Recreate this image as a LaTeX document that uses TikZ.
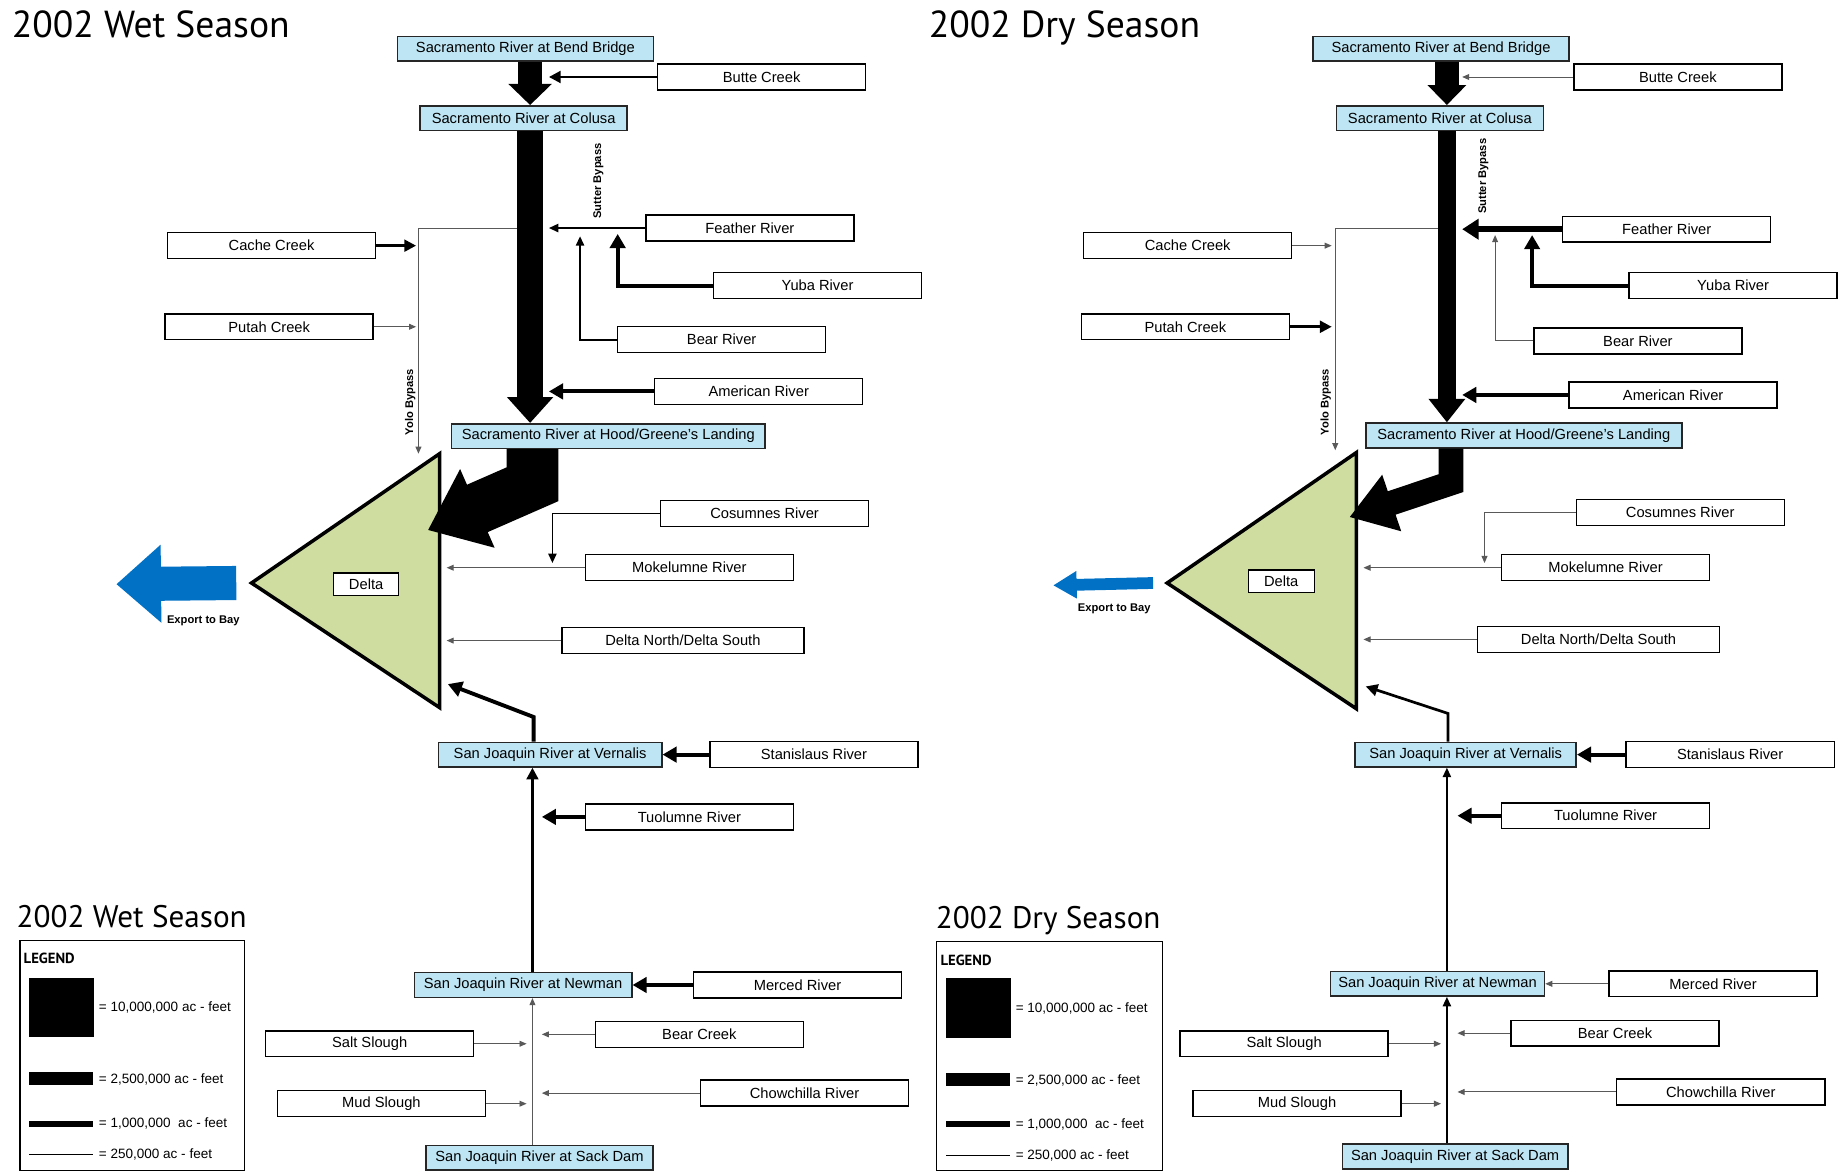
\documentclass[tikz,border=0pt]{standalone}
\usepackage{fontspec}
\setmainfont{Liberation Sans}
\newfontfamily\titlefont{PT Sans}
\usepackage{tikz}
\usetikzlibrary{arrows.meta, backgrounds, positioning}

\definecolor{gaugeblue}{RGB}{190,229,243}
\definecolor{deltagreen}{RGB}{207,222,160}
\definecolor{exportblue}{RGB}{0,113,197}

\tikzset{
    gauge/.style={draw=black!85, line width=1.3pt, fill=gaugeblue, minimum height=21pt, inner sep=0pt, font=\fontsize{12.5}{14}\selectfont},
    trib/.style={draw=black, line width=1.2pt, fill=white, minimum width=177pt, minimum height=22pt, inner sep=0pt, font=\fontsize{12.5}{14}\selectfont},
    hair/.style={line width=0.8pt, draw=black!65, -{Triangle[width=5pt,length=6pt]}},
    thinflow/.style={line width=1.4pt, -{Triangle[width=7pt,length=8pt]}},
    midflow/.style={line width=2.3pt, -{Triangle[width=10pt,length=10pt]}},
    thickflow/.style={line width=3.3pt, -{Triangle[width=13pt,length=12pt]}},
    heavyflow/.style={line width=5.5pt, -{Triangle[width=17pt,length=14pt]}},
    deltashape/.style={draw=black, line width=3pt, fill=deltagreen, line join=miter},
    bypass/.style={font=\bfseries\fontsize{9.5}{11}\selectfont, rotate=90, inner sep=0pt},
    exportlabel/.style={font=\bfseries\fontsize{9.5}{11}\selectfont, inner sep=0pt},
    legendtext/.style={anchor=west, inner sep=0pt, font=\fontsize{11.5}{13}\selectfont},
    legendhead/.style={anchor=base west, inner sep=0pt, font=\titlefont\bfseries\fontsize{12.5}{14}\selectfont},
    seasontitle/.style={anchor=base west, inner sep=0pt, font=\titlefont\fontsize{32}{35}\selectfont},
    legendtitle/.style={anchor=base west, inner sep=0pt, font=\titlefont\fontsize{26.5}{30}\selectfont},
}

\begin{document}
\begin{tikzpicture}[x=1pt, y=-1pt]
    \useasboundingbox (0,0) rectangle (1568,997);
    \fill[white] (0,0) rectangle (1568,997);

    % ===================== 2002 Wet Season =====================
    \node[seasontitle] (wtitle) at (10,32) {2002 Wet Season};

    % --- gauges and tributaries ---
    \node[gauge, minimum width=218pt] (wbend) at (447,41.5) {Sacramento River at Bend Bridge};
    \node[trib] (wbutte) at (648,65.5) {Butte Creek};
    \node[gauge, minimum width=176pt] (wcolusa) at (445.5,100.5) {Sacramento River at Colusa};
    \node[trib] (wfeather) at (638,194) {Feather River};
    \node[trib] (wcache) at (231,209) {Cache Creek};
    \node[trib] (wyuba) at (695.5,243) {Yuba River};
    \node[trib] (wputah) at (229,278) {Putah Creek};
    \node[trib] (wbear) at (614,289) {Bear River};
    \node[trib] (wamerican) at (645.5,333) {American River};
    \node[gauge, minimum width=267pt] (whood) at (517.5,371) {Sacramento River at Hood/Greene's Landing};
    \node[trib] (wcosumnes) at (650.5,437) {Cosumnes River};
    \node[trib] (wmokelumne) at (586.5,483) {Mokelumne River};
    \node[trib, minimum width=206pt] (wdns) at (581,545) {Delta North/Delta South};
    \node[gauge, minimum width=190pt] (wvernalis) at (468,642) {San Joaquin River at Vernalis};
    \node[trib] (wstanislaus) at (692.5,642) {Stanislaus River};
    \node[trib] (wtuolumne) at (586.5,695) {Tuolumne River};
    \node[gauge, minimum width=185pt] (wnewman) at (445,838) {San Joaquin River at Newman};
    \node[trib] (wmerced) at (678.5,838) {Merced River};
    \node[trib] (wbearcreek) at (595,880) {Bear Creek};
    \node[trib] (wsalt) at (314.5,888) {Salt Slough};
    \node[trib] (wchow) at (684.5,930) {Chowchilla River};
    \node[trib] (wmud) at (324.5,939) {Mud Slough};
    \node[gauge, minimum width=193pt] (wsack) at (459,985) {San Joaquin River at Sack Dam};

    % --- Delta ---
    \coordinate (wdapex) at (214,496);
    \coordinate (wdtop) at (374,386);
    \coordinate (wdbot) at (374,602);
    \draw[deltashape] (wdapex) -- (wdtop) -- (wdbot) -- cycle;
    \node[draw, line width=1pt, fill=white, minimum width=55pt, minimum height=19pt, inner sep=0pt, font=\fontsize{12.5}{14}\selectfont] (wdelta) at (311.5,497) {Delta};

    % --- helper coordinates ---
    \coordinate (wsx) at (451,0);
    \coordinate (wsr) at (467,0);
    \coordinate (wyotip) at (354,0);
    \coordinate (wdedge) at (380,0);
    \coordinate (wsj) at (453,0);
    \coordinate (wsjr) at (461,0);
    \coordinate (wsjl) at (448,0);

    % --- Sutter Bypass (behind Colusa box) ---
    \begin{scope}[on background layer]
        \coordinate (wsut1) at (461,78);
        \coordinate (wsut2) at (493.5,188);
        \draw[thinflow] (wsut1) -| (wsut2);
    \end{scope}
    \node[bypass] (wsutlabel) at (509,154) {Sutter Bypass};

    % --- Sacramento River ---
    \draw[line width=21pt, -{Triangle[width=36pt,length=18pt]}] (wbend.south -| wsx) -- (wcolusa.north -| wsx);
    \draw[line width=22pt, -{Triangle[width=38pt,length=22pt]}] (wcolusa.south -| wsx) -- (whood.north -| wsx);
    \coordinate (wbend1) at (453,412);
    \coordinate (wdin) at (364,451);
    \draw[line width=44pt, line join=miter, -{Triangle[width=70pt,length=46pt]}] (whood.south -| wbend1) -- (wbend1) -- (wdin);

    % --- tributaries to the Sacramento ---
    \draw[midflow] (wbutte.west) -- (wbutte.west -| wsr);
    \draw[thinflow] (wfeather.west) -- (wfeather.west -| wsr);
    \coordinate (wyubaup) at (525.5,199);
    \draw[thickflow] (wyuba.west) -| (wyubaup);
    \coordinate (wbearup) at (493.5,201);
    \draw[thinflow] (wbear.west) -| (wbearup);
    \draw[thickflow] (wamerican.west) -- (wamerican.west -| wsr);

    % --- Yolo Bypass ---
    \coordinate (wyo1) at (440,194);
    \coordinate (wyo2) at (356,386);
    \draw[hair] (wyo1) -| (wyo2);
    \node[bypass] (wyololabel) at (349,342) {Yolo Bypass};
    \draw[midflow] (wcache.east) -- (wcache.east -| wyotip);
    \draw[hair] (wputah.east) -- (wputah.east -| wyotip);

    % --- eastside streams ---
    \coordinate (wcos) at (470,479);
    \draw[thinflow] (wcosumnes.west) -| (wcos);
    \draw[hair] (wmokelumne.west) -- (wmokelumne.west -| wdedge);
    \draw[hair] (wdns.west) -- (wdns.west -| wdedge);

    % --- San Joaquin River ---
    \coordinate (wsjbend) at (454,610);
    \coordinate (wdsj) at (381,582);
    \draw[thickflow] (wvernalis.north -| wsjbend) -- (wsjbend) -- (wdsj);
    \draw[thickflow] (wstanislaus.west) -- (wvernalis.east);
    \draw[thickflow] (wtuolumne.west) -- (wtuolumne.west -| wsjr);
    \draw[midflow] (wnewman.north -| wsj) -- (wvernalis.south -| wsj);
    \draw[thickflow] (wmerced.west) -- (wnewman.east);
    \draw[hair] (wbearcreek.west) -- (wbearcreek.west -| wsjr);
    \draw[hair] (wchow.west) -- (wchow.west -| wsjr);
    \draw[hair] (wsalt.east) -- (wsalt.east -| wsjl);
    \draw[hair] (wmud.east) -- (wmud.east -| wsjl);
    \draw[hair] (wsack.north -| wsj) -- (wnewman.south -| wsj);

    % --- Export to Bay ---
    \coordinate (wexp) at (99,497);
    \draw[exportblue, line width=29pt, -{Triangle[width=64pt,length=38pt]}] ([xshift=-13pt]wdapex) -- (wexp);
    \node[exportlabel] (wexplabel) at (173,528) {Export to Bay};

    % --- legend ---
    \node[legendtitle] (wltitle) at (14,789) {2002 Wet Season};
    \draw[line width=1.2pt] (17,800) rectangle (208,996);
    \node[legendhead] at (20,820) {LEGEND};
    \fill (25,832) rectangle (80,882);
    \fill (25,912) rectangle (79,923);
    \fill (25,953.5) rectangle (79,958.5);
    \draw[line width=1pt] (25,982) -- (79,982);
    \node[legendtext] at (84,857) {= 10,000,000 ac - feet};
    \node[legendtext] at (84,918) {= 2,500,000 ac - feet};
    \node[legendtext] at (84,956) {= 1,000,000 \ ac - feet};
    \node[legendtext] at (84,982) {= 250,000 ac - feet};

    % ===================== 2002 Dry Season =====================
    \node[seasontitle] (dtitle) at (790,32) {2002 Dry Season};

    % --- gauges and tributaries ---
    \node[gauge, minimum width=218pt] (dbend) at (1226,41.5) {Sacramento River at Bend Bridge};
    \node[trib] (dbutte) at (1427.5,65.5) {Butte Creek};
    \node[gauge, minimum width=176pt] (dcolusa) at (1225,100.5) {Sacramento River at Colusa};
    \node[trib] (dfeather) at (1418,195) {Feather River};
    \node[trib] (dcache) at (1010.5,209) {Cache Creek};
    \node[trib] (dyuba) at (1474.5,243) {Yuba River};
    \node[trib] (dputah) at (1008.5,278) {Putah Creek};
    \node[trib] (dbear) at (1393.5,290) {Bear River};
    \node[trib] (damerican) at (1423.5,336) {American River};
    \node[gauge, minimum width=269pt] (dhood) at (1296.5,370.5) {Sacramento River at Hood/Greene's Landing};
    \node[trib] (dcosumnes) at (1429.5,436) {Cosumnes River};
    \node[trib] (dmokelumne) at (1366,483) {Mokelumne River};
    \node[trib, minimum width=206pt] (ddns) at (1360,544) {Delta North/Delta South};
    \node[gauge, minimum width=188pt] (dvernalis) at (1247,642) {San Joaquin River at Vernalis};
    \node[trib] (dstanislaus) at (1472,642) {Stanislaus River};
    \node[trib] (dtuolumne) at (1366,694) {Tuolumne River};
    \node[gauge, minimum width=182pt] (dnewman) at (1223,837) {San Joaquin River at Newman};
    \node[trib] (dmerced) at (1457.5,837) {Merced River};
    \node[trib] (dbearcreek) at (1374,879) {Bear Creek};
    \node[trib] (dsalt) at (1092.5,888) {Salt Slough};
    \node[trib] (dchow) at (1464,929) {Chowchilla River};
    \node[trib] (dmud) at (1103.5,939) {Mud Slough};
    \node[gauge, minimum width=192pt] (dsack) at (1238,984) {San Joaquin River at Sack Dam};

    % --- Delta ---
    \coordinate (ddapex) at (993,496);
    \coordinate (ddtop) at (1154,385);
    \coordinate (ddbot) at (1154,603);
    \draw[deltashape] (ddapex) -- (ddtop) -- (ddbot) -- cycle;
    \node[draw, line width=1pt, fill=white, minimum width=56pt, minimum height=19pt, inner sep=0pt, font=\fontsize{12.5}{14}\selectfont] (ddelta) at (1090,494.5) {Delta};

    % --- helper coordinates ---
    \coordinate (dsx) at (1231,0);
    \coordinate (dsr) at (1244,0);
    \coordinate (dyotip) at (1133,0);
    \coordinate (ddedge) at (1160,0);
    \coordinate (dsj) at (1231,0);
    \coordinate (dsjr) at (1240,0);
    \coordinate (dsjl) at (1226,0);

    % --- Sutter Bypass (behind Colusa box) ---
    \begin{scope}[on background layer]
        \coordinate (dsut1) at (1240,78);
        \coordinate (dsut2) at (1250,187);
        \draw[hair] (dsut1) -| (dsut2);
    \end{scope}
    \node[bypass] (dsutlabel) at (1262,150) {Sutter Bypass};

    % --- Sacramento River ---
    \draw[line width=20pt, -{Triangle[width=32pt,length=17pt]}] (dbend.south -| dsx) -- (dcolusa.north -| dsx);
    \draw[line width=16pt, -{Triangle[width=30pt,length=20pt]}] (dcolusa.south -| dsx) -- (dhood.north -| dsx);
    \coordinate (dbend1) at (1234.5,411);
    \coordinate (ddin) at (1148,440);
    \draw[line width=21pt, line join=miter, -{Triangle[width=48pt,length=38pt]}] (dhood.south -| dbend1) -- (dbend1) -- (ddin);

    % --- tributaries to the Sacramento ---
    \draw[hair] (dbutte.west) -- (dbutte.west -| dsr);
    \draw[heavyflow] (dfeather.west) -- (dfeather.west -| dsr);
    \coordinate (dyubaup) at (1303.5,200);
    \draw[thickflow] (dyuba.west) -| (dyubaup);
    \coordinate (dbearup) at (1272,200);
    \draw[hair] (dbear.west) -| (dbearup);
    \draw[thickflow] (damerican.west) -- (damerican.west -| dsr);

    % --- Yolo Bypass ---
    \coordinate (dyo1) at (1223,194);
    \coordinate (dyo2) at (1136,383);
    \draw[hair] (dyo1) -| (dyo2);
    \node[bypass] (dyololabel) at (1128,342) {Yolo Bypass};
    \draw[hair] (dcache.east) -- (dcache.east -| dyotip);
    \draw[midflow] (dputah.east) -- (dputah.east -| dyotip);

    % --- eastside streams ---
    \coordinate (dcos) at (1263,479);
    \draw[hair] (dcosumnes.west) -| (dcos);
    \draw[hair] (dmokelumne.west) -- (dmokelumne.west -| ddedge);
    \draw[hair] (ddns.west) -- (ddns.west -| ddedge);

    % --- San Joaquin River ---
    \coordinate (dsjbend) at (1232,607);
    \coordinate (ddsj) at (1162,584);
    \draw[midflow] (dvernalis.north -| dsjbend) -- (dsjbend) -- (ddsj);
    \draw[thickflow] (dstanislaus.west) -- (dvernalis.east);
    \draw[thickflow] (dtuolumne.west) -- (dtuolumne.west -| dsjr);
    \draw[thinflow] (dnewman.north -| dsj) -- (dvernalis.south -| dsj);
    \draw[hair] (dmerced.west) -- (dnewman.east);
    \draw[hair] (dbearcreek.west) -- (dbearcreek.west -| dsjr);
    \draw[hair] (dchow.west) -- (dchow.west -| dsjr);
    \draw[hair] (dsalt.east) -- (dsalt.east -| dsjl);
    \draw[hair] (dmud.east) -- (dmud.east -| dsjl);
    \draw[thinflow] (dsack.north -| dsj) -- (dnewman.south -| dsj);

    % --- Export to Bay ---
    \coordinate (dexp) at (896,498);
    \draw[exportblue, line width=10pt, -{Triangle[width=22pt,length=20pt]}] ([xshift=-12pt]ddapex) -- (dexp);
    \node[exportlabel] (dexplabel) at (948,518) {Export to Bay};

    % --- legend ---
    \node[legendtitle] (dltitle) at (796,790) {2002 Dry Season};
    \draw[line width=1.2pt] (797,801) rectangle (989,996);
    \node[legendhead] at (800,821) {LEGEND};
    \fill (805,832) rectangle (860,883);
    \fill (805,913) rectangle (859,924);
    \fill (805,954) rectangle (859,959);
    \draw[line width=1pt] (805,983) -- (859,983);
    \node[legendtext] at (864,858) {= 10,000,000 ac - feet};
    \node[legendtext] at (864,919) {= 2,500,000 ac - feet};
    \node[legendtext] at (864,957) {= 1,000,000 \ ac - feet};
    \node[legendtext] at (864,983) {= 250,000 ac - feet};
\end{tikzpicture}
\end{document}
